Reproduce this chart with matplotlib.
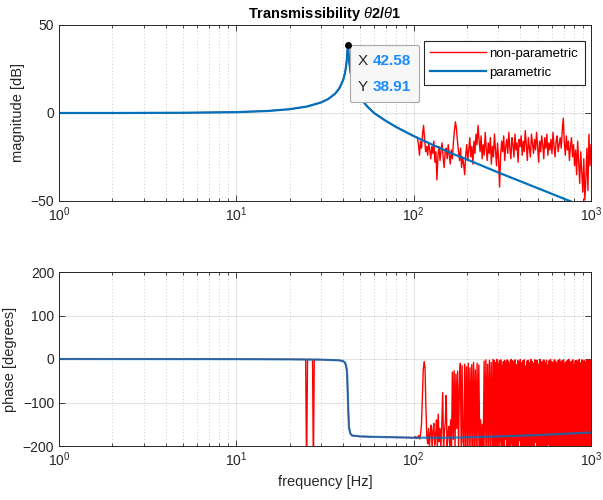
import numpy as np
import matplotlib
matplotlib.use("Agg")
import matplotlib.pyplot as plt
from matplotlib.offsetbox import TextArea, HPacker, VPacker, AnnotationBbox

plt.rcParams['font.family'] = ['Liberation Sans', 'DejaVu Sans']
plt.rcParams['mathtext.fontset'] = 'custom'
plt.rcParams['mathtext.rm'] = 'Liberation Sans'
plt.rcParams['mathtext.it'] = 'Liberation Sans:italic'
plt.rcParams['mathtext.bf'] = 'Liberation Sans:bold'

# ---------------- data ----------------
# parametric model
par_freq = [1, 2, 5, 10, 15, 20, 25, 30, 33, 36, 38, 40, 41, 41.5, 42, 42.3, 42.58,
            42.8, 43.2, 44, 45, 47, 50, 55, 60, 70, 80, 100, 130, 170, 200, 300,
            400, 500, 600, 700, 800, 1000]
par_mag = [0.0, 0.0, 0.12, 0.49, 1.15, 2.16, 3.67, 5.96, 7.97, 10.9, 13.8, 18.6, 22.8,
           26.0, 30.6, 35.2, 38.91, 36.3, 30.0, 23.4, 18.6, 13.2, 8.43, 3.5, -0.13,
           -4.62, -8.06, -13.1, -18.4, -23.6, -26.4, -33.8, -38.8, -42.7, -45.9,
           -48.6, -50.9, -54.8]
par_phase_freq = [1, 10, 20, 30, 38, 40, 41, 41.5, 42, 42.3, 42.58, 42.8, 43.2, 44, 45,
                  50, 60, 80, 100, 150, 200, 300, 500, 700, 1000]
par_phase = [0, -0.3, -0.8, -1.5, -3, -5, -8, -14, -25, -50, -90, -125, -158, -172,
             -176, -178, -179, -180, -181, -181, -180, -178, -175, -172, -169]

# non-parametric estimate: below 100 Hz it coincides with the model
np_mag_noise = [
    -14, -18, -24, -16, -20, -12, -7, -15, -22, -19,
    -24, -17, -21, -26, -19, -23, -16, -28, -22, -38,
    -24, -19, -27, -21, -17, -25, -31, -22, -20, -26,
    -18, -24, -29, -21, -26, -17, -10, -5, -9, -16,
    -22, -27, -20, -31, -25, -29, -35, -24, -18, -27,
    -21, -14, -25, -19, -29, -16, -23, -12, -18, -7,
    -15, -22, -13, -26, -18, -24, -11, -20, -27, -17,
    -23, -14, -29, -19, -25, -12, -21, -30, -17, -26,
    -42, -24, -16, -22, -13, -27, -19, -15, -23, -11,
    -20, -26, -14, -18, -25, -12, -21, -17, -28, -15,
    -19, -13, -24, -16, -22, -10, -18, -27, -14, -20,
    -25, -12, -17, -23, -15, -21, -11, -19, -28, -16,
    -22, -13, -18, -26, -14, -20, -12, -24, -17, -21,
    -15, -23, -11, -19, -25, -16, -13, -22, -18, -14,
    -20, -10, -3, -17, -24, -13, -21, -16, -27, -19,
    -14, -25, -18, -30, -21, -35, -16, -28, -40, -22,
    -33, -45, -26, -49.5, -38, -20, -44, -12, -30, -18]

np_phase_low_freq = [1, 10, 20, 24.6, 24.9, 25.2, 26.9, 27.2, 27.5, 30, 38, 40, 41, 42,
                     42.58, 43.2, 44, 45, 50, 60, 80, 100]
np_phase_low = [0, -0.3, -0.8, -1.0, -260, -1.0, -1.1, -260, -1.1, -1.5, -3, -5, -8,
                -25, -90, -158, -172, -176, -178, -179, -180, -181]
np_phase_mid = [
    -181, -178, -183, -179, -182, -176, -184, -172, -150, -90,
    -25, -6, -20, -110, -178, -195, -160, -200, -170, -152,
    -205, -165, -148, -198, -175, -140, -205, -127, -190, -160,
    -205, -150, -77, -200, -168, -145, -84, -205, -170, -155,
    -200, -140, -205, -30, -185, -27, -205, -35, -160, -28,
    -205, -60, -10, -205, -15, -190, -205, -12, -205, -18,
    -205, -10, -205, -20, -205, -13, -205, -8, -205, -25,
    -205, -10, -205, -14, -205, -140, -205, -150, -205, -5,
    -205, -2, -205, -12, -205, -3, -205, -8, -205, -1]
np_phase_high_tops = [
    -3, -8, -1, -12, -4, -2, -15, -6, -3, -9, -2, -5, -11, -1, -4, -7, -2, -13, -3, -6,
    -1, -9, -4, -2, -16, -5, -3, -8, -1, -6, -10, -2, -4, -3, -12, -1, -7, -5, -2, -9,
    -3, -14, -4, -1, -6, -8, -2, -5, -11, -3, -1, -7, -4, -2, -10, -6, -3, -1, -8, -5,
    -2, -13, -4, -3, -6, -1, -9, -2, -5, -3, -7, -1, -4, -2, -3]
np_phase_high_bottoms = [
    -205, -205, -198, -205, -205, -190, -205, -205, -205, -185, -205, -205, -205, -205,
    -195, -205, -205, -205, -205, -205, -188, -205, -205, -205, -205, -205, -205, -200,
    -205, -205, -205, -205, -192, -205, -205, -205, -205, -205, -205, -205, -205, -205,
    -197, -205, -205, -205, -205, -205, -205, -205, -205, -205, -205, -205, -205, -205,
    -205, -205, -205, -205, -205, -205, -205, -205, -205, -205, -205, -205, -205, -205,
    -205, -205, -205, -205, -205]

peak_f, peak_mag = 42.58, 38.91

# ---------------- assemble series ----------------
par_freq_a = np.array(par_freq)
low_mask = par_freq_a <= 100
nf_mag_freq = np.concatenate([par_freq_a[low_mask],
                              np.geomspace(105, 1000, len(np_mag_noise))])
nf_mag = np.concatenate([np.array(par_mag)[low_mask], np_mag_noise])

high_vals = [v for pair in zip(np_phase_high_bottoms, np_phase_high_tops) for v in pair]
nf_ph_freq = np.concatenate([np_phase_low_freq,
                             np.geomspace(101, 280, len(np_phase_mid)),
                             np.geomspace(282, 1000, len(high_vals))])
nf_ph = np.concatenate([np_phase_low, np_phase_mid, high_vals])

# ---------------- figure ----------------
TXT = '#262626'
RED = '#ff0000'
BLUE = '#0072BD'

fig = plt.figure(figsize=(6.03, 5.00), dpi=100)
ax1 = fig.add_axes([59/603, 1-201/500, 532/603, 176/500])
ax2 = fig.add_axes([59/603, 1-446/500, 532/603, 174/500])

def style(ax):
    ax.set_xscale('log')
    ax.set_xlim(1, 1000)
    ax.grid(True, which='major', color=TXT, alpha=0.15, lw=0.6, ls='-')
    ax.grid(True, which='minor', color=TXT, alpha=0.3, lw=0.6, ls=(0, (1, 3)))
    ax.tick_params(which='both', direction='in', top=True, right=True,
                   colors=TXT, labelsize=10, width=0.6)
    ax.tick_params(which='major', length=4)
    ax.tick_params(which='minor', length=2.5)
    for s in ax.spines.values():
        s.set_color(TXT)
        s.set_linewidth(0.7)
    ax.set_axisbelow(True)

ax1.plot(nf_mag_freq, nf_mag, color=RED, lw=1.0, label='non-parametric')
ax1.plot(par_freq, par_mag, color=BLUE, lw=1.6, label='parametric')
style(ax1)
ax1.set_ylim(-50, 50)
ax1.set_yticks([-50, 0, 50])
ax1.set_ylabel('magnitude [dB]', color=TXT, fontsize=10.5)
ax1.set_title(r'Transmissibility $\theta$2/$\theta$1', fontsize=10.5,
              fontweight='bold', color='black', pad=5)
leg = ax1.legend(loc='upper right', bbox_to_anchor=(526/532, 160/176),
                 borderaxespad=0, fancybox=False, framealpha=1, edgecolor=TXT,
                 fontsize=9.5, handlelength=4.2, handletextpad=0.3,
                 borderpad=0.5, labelspacing=0.5)
leg.get_frame().set_linewidth(0.8)

ax1.plot([peak_f], [peak_mag], 'o', color='black', ms=4, zorder=7)
tp_lab = dict(color=TXT, fontsize=11)
tp_val = dict(color='#1a8cff', fontsize=11, fontweight='bold')
row1 = HPacker(children=[TextArea('X ', textprops=tp_lab), TextArea('42.58', textprops=tp_val)],
               align='baseline', pad=0, sep=0)
row2 = HPacker(children=[TextArea('Y ', textprops=tp_lab), TextArea('38.91', textprops=tp_val)],
               align='baseline', pad=0, sep=0)
box = VPacker(children=[row1, row2], align='left', pad=0, sep=9)
ab = AnnotationBbox(box, (peak_f, peak_mag), xybox=(7.5, -6.5), xycoords='data',
                    boxcoords='offset points', box_alignment=(0, 1), pad=0.6,
                    bboxprops=dict(facecolor='#f7f7f7', edgecolor='#a8a8a8', lw=0.8,
                                   boxstyle='round,pad=0.6,rounding_size=0.15'),
                    zorder=6)
ax1.add_artist(ab)

ax2.plot(nf_ph_freq, nf_ph, color=RED, lw=1.0)
ax2.plot(par_phase_freq, par_phase, color=BLUE, lw=1.6, alpha=0.8)
style(ax2)
ax2.set_ylim(-200, 200)
ax2.set_yticks([-200, -100, 0, 100, 200])
ax2.set_ylabel('phase [degrees]', color=TXT, fontsize=10.5)
ax2.set_xlabel('frequency [Hz]', color=TXT, fontsize=10.5)

fig.savefig('out.png', dpi=100)
